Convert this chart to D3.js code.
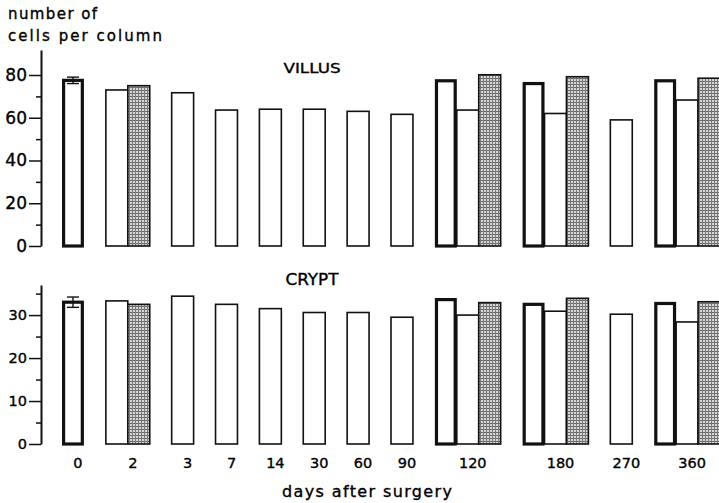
<!DOCTYPE html>
<html>
<head>
<meta charset="utf-8">
<script src="https://cdn.jsdelivr.net/npm/d3@7/dist/d3.min.js"></script>
<style>
  html, body { margin: 0; padding: 0; background: #fff; }
  svg { display: block; }
  text { font-family: "DejaVu Sans", "Liberation Sans", sans-serif; fill: #000; stroke: #000; stroke-width: 0.35; }
</style>
</head>
<body>
<svg id="chart" width="719" height="503"></svg>
<script>
// Days after surgery (one group of bars per day)
const days = ["0", "2", "3", "7", "14", "30", "60", "90", "120", "180", "270", "360"];

// Villus: cells per column
const villusControl = [77.5, null, null, null, null, null, null, null, 77.3, 76.0, null, 77.3];
const villusWhite   = [null, 73.0, 71.7, 63.6, 64.0, 64.0, 63.0, 61.6, 63.6, 62.0, 59.0, 68.3];
const villusGrey    = [null, 75.0, null, null, null, null, null, null, 80.1, 79.2, null, 78.5];
const villusError   = [1.5, null, null, null, null, null, null, null, null, null, null, null];

// Crypt: cells per column
const cryptControl = [33.0, null, null, null, null, null, null, null, 33.6, 32.5, null, 32.7];
const cryptWhite   = [null, 33.3, 34.4, 32.5, 31.5, 30.6, 30.6, 29.5, 30.0, 30.9, 30.2, 28.4];
const cryptGrey    = [null, 32.5, null, null, null, null, null, null, 32.9, 33.9, null, 33.1];
const cryptError   = [1.2, null, null, null, null, null, null, null, null, null, null, null];

// Axis ticks
const villusTicks = [0, 20, 40, 60, 80];
const villusMinor = [10, 30, 50, 70];
const cryptTicks = [0, 10, 20, 30];
const cryptMinor = [5, 15, 25, 35];

const svg = d3.select("#chart");

// Hatched fill for the grey bars
const defs = svg.append("defs");
const pat = defs.append("pattern")
  .attr("id", "hatch").attr("patternUnits", "userSpaceOnUse")
  .attr("width", 3).attr("height", 3);
pat.append("rect").attr("width", 3).attr("height", 3).attr("fill", "#d6d6d6");
pat.append("rect").attr("x", 0).attr("y", 0).attr("width", 3).attr("height", 1).attr("fill", "#6a6a6a");
pat.append("rect").attr("x", 0).attr("y", 0).attr("width", 1).attr("height", 3).attr("fill", "#7a7a7a");

// Bars sit in equal-width slots; each day group is followed by one empty slot
function buildSlots(control, white, grey) {
  const bars = [];
  const groups = [];
  let cursor = 0;
  days.forEach((d, i) => {
    const start = cursor;
    [["control", control[i]], ["white", white[i]], ["grey", grey[i]]].forEach(([kind, v]) => {
      if (v != null) bars.push({ day: d, index: i, kind, value: v, slot: cursor++ });
    });
    groups.push({ day: d, start, end: cursor });
    cursor++;
  });
  return { bars, groups, used: cursor - 1 };
}

const layout = buildSlots(villusControl, villusWhite, villusGrey);
const x = d3.scaleLinear().domain([0, layout.used]).range([62, 720]);
const slotW = x(1) - x(0);

const axisX = 41;

function drawPanel(cfg) {
  const { yScale, control, white, grey, errors, major, minor, labelSize, title, titleX, titleY, titleSize, titleLen } = cfg;
  const panel = buildSlots(control, white, grey);
  const g = svg.append("g");

  // bars
  panel.bars.forEach(b => {
    const x0 = x(b.slot);
    const y0 = yScale(0);
    const yv = yScale(b.value);
    if (b.kind === "control") {
      g.append("rect")
        .attr("x", x0 + 1.6).attr("y", yv)
        .attr("width", slotW - 3.2).attr("height", y0 - yv)
        .attr("fill", "#fff").attr("stroke", "#111").attr("stroke-width", 3.2);
    } else {
      g.append("rect")
        .attr("x", x0).attr("y", yv)
        .attr("width", slotW).attr("height", y0 - yv)
        .attr("fill", b.kind === "grey" ? "url(#hatch)" : "#fff")
        .attr("stroke", "#111").attr("stroke-width", 1.6);
    }
    const e = errors[b.index];
    if (e != null && b.kind === "control") {
      const cx = x0 + slotW / 2;
      const capW = 6;
      g.append("line").attr("x1", cx).attr("x2", cx)
        .attr("y1", yScale(b.value - e)).attr("y2", yScale(b.value + e))
        .attr("stroke", "#111").attr("stroke-width", 1.4);
      [b.value - e, b.value + e].forEach(v => {
        g.append("line").attr("x1", cx - capW).attr("x2", cx + capW)
          .attr("y1", yScale(v)).attr("y2", yScale(v))
          .attr("stroke", "#111").attr("stroke-width", 1.4);
      });
    }
  });

  // y axis: labelled major ticks and unlabelled minor ticks
  const ax = g.append("g").attr("transform", `translate(${axisX},0)`)
    .call(d3.axisLeft(yScale).tickValues(major).tickSize(12).tickSizeOuter(0).tickPadding(2));
  ax.select(".domain").attr("stroke", "#111").attr("stroke-width", 2);
  ax.selectAll(".tick line").attr("stroke", "#111").attr("stroke-width", 1.5);
  ax.selectAll(".tick text").attr("font-size", labelSize).attr("fill", "#000")
    .style("font-family", '"DejaVu Sans", sans-serif');
  const mx = g.append("g").attr("transform", `translate(${axisX},0)`)
    .call(d3.axisLeft(yScale).tickValues(minor).tickSize(5).tickSizeOuter(0).tickFormat(""));
  mx.select(".domain").remove();
  mx.selectAll(".tick line").attr("stroke", "#111").attr("stroke-width", 1.5);

  g.append("text").attr("x", titleX).attr("y", titleY)
    .attr("text-anchor", "middle").attr("font-size", titleSize)
    .attr("textLength", titleLen).attr("lengthAdjust", "spacingAndGlyphs")
    .text(title);

  return panel;
}

const yVillus = d3.scaleLinear().domain([0, 91.7]).range([246, 50]);
const yCrypt = d3.scaleLinear().domain([0, 37]).range([444, 285]);

drawPanel({
  yScale: yVillus, control: villusControl, white: villusWhite, grey: villusGrey, errors: villusError,
  major: villusTicks, minor: villusMinor, labelSize: 17,
  title: "VILLUS", titleX: 312, titleY: 73, titleSize: 14, titleLen: 57
});
const cryptPanel = drawPanel({
  yScale: yCrypt, control: cryptControl, white: cryptWhite, grey: cryptGrey, errors: cryptError,
  major: cryptTicks, minor: cryptMinor, labelSize: 14.5,
  title: "CRYPT", titleX: 312, titleY: 285, titleSize: 15, titleLen: 53
});

// day labels under each group
svg.append("g").selectAll("text").data(cryptPanel.groups).join("text")
  .attr("x", d => (x(d.start) + x(d.end)) / 2 + 5)
  .attr("y", 468)
  .attr("text-anchor", "middle")
  .attr("font-size", 14.5)
  .text(d => d.day);

// axis titles
svg.append("text").attr("x", 8).attr("y", 19).attr("font-size", 15)
  .attr("textLength", 89).attr("lengthAdjust", "spacing").text("number of");
svg.append("text").attr("x", 8).attr("y", 41).attr("font-size", 15)
  .attr("textLength", 154).attr("lengthAdjust", "spacing").text("cells per column");
svg.append("text").attr("x", 367).attr("y", 497).attr("text-anchor", "middle").attr("font-size", 16)
  .attr("textLength", 170).attr("lengthAdjust", "spacing").text("days after surgery");
</script>
</body>
</html>
